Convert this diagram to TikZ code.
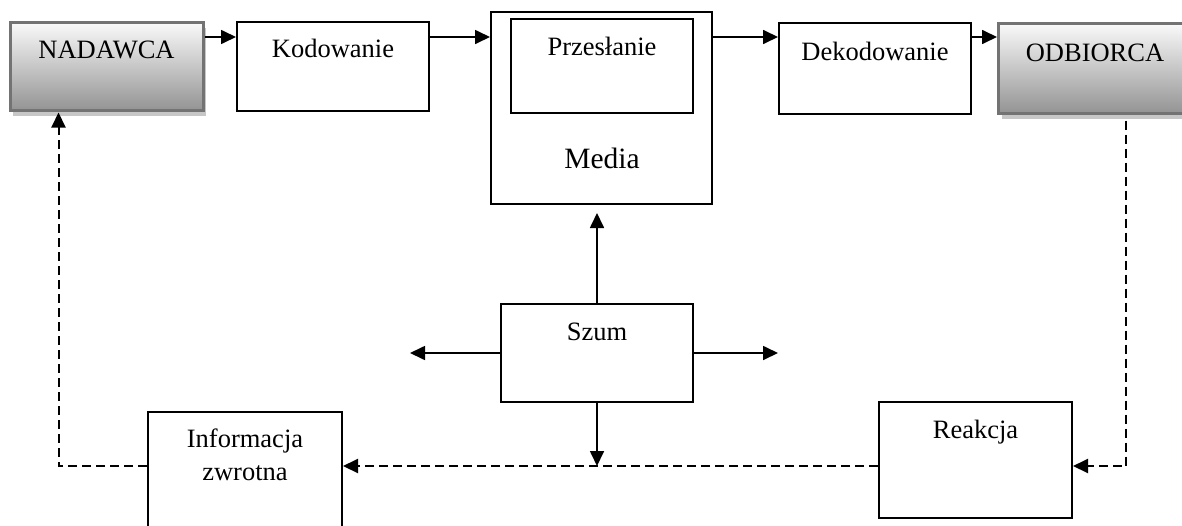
\documentclass[tikz,border=0pt]{standalone}
\usepackage{fontspec}
\setmainfont{Liberation Serif}
\usetikzlibrary{arrows.meta,shadows}
\begin{document}
\begin{tikzpicture}[x=1pt,y=-1pt,
  box/.style={draw, line width=2pt, fill=white, inner sep=0pt},
  party/.style={draw=black!55, line width=3pt, inner sep=0pt,
    top color=black!2, bottom color=black!42,
    general shadow={fill=black!22, shadow xshift=3pt, shadow yshift=-6pt}},
  lbl/.style={anchor=base, inner sep=0pt, align=center,
    font=\fontsize{26.5}{33}\selectfont},
  tip/.style={-{Triangle[length=15pt,width=14pt]}},
  arr/.style={line width=1.7pt, tip},
  fb/.style={line width=2pt, dash pattern=on 9pt off 5pt, tip}
]
\useasboundingbox (0,0) rectangle (1182,525);

% sender and receiver
\node[party, minimum width=193pt, minimum height=88pt] (nad) at (106.5,66) {};
\node[party, minimum width=193pt, minimum height=90pt] (odb) at (1095,68) {};

% processing boxes
\node[box, minimum width=192pt, minimum height=89pt] (kod) at (333,66.5) {};
\node[box, minimum width=221pt, minimum height=192pt] (media) at (601.5,108) {};
\node[box, minimum width=182pt, minimum height=94pt] (prz) at (602,66) {};
\node[box, minimum width=192pt, minimum height=91pt] (dek) at (875,68.5) {};
\node[box, minimum width=192pt, minimum height=98pt] (szum) at (597,353) {};
\node[box, minimum width=194pt, minimum height=126pt] (info) at (245,475) {};
\node[box, minimum width=193pt, minimum height=116pt] (reak) at (975.5,460) {};

% labels
\node[lbl] (tnad) at (106.5,58) {NADAWCA};
\node[lbl] (todb) at (1095,61) {ODBIORCA};
\node[lbl] (tkod) at (333,57) {Kodowanie};
\node[lbl] (tprz) at (602,55) {Przesłanie};
\node[lbl, font=\fontsize{29.5}{35}\selectfont] (tmed) at (602,168) {Media};
\node[lbl] (tdek) at (875,60) {Dekodowanie};
\node[lbl] (tszum) at (597,340) {Szum};
\node[lbl] (tinfo) at (245,480) {Informacja\\zwrotna};
\node[lbl] (treak) at (975.5,438) {Reakcja};

% helper rows
\coordinate (row) at (0,37);
\coordinate (fbrow) at (0,466);
\coordinate (noiseL) at (410,353);
\coordinate (noiseR) at (778,353);

% main message path
\draw[arr] (nad.east |- row) -- (kod.west |- row);
\draw[arr] (kod.east |- row) -- (media.west |- row);
\draw[arr] (media.east |- row) -- (dek.west |- row);
\draw[arr] (dek.east |- row) -- (odb.west |- row);

% noise
\draw[arr, shorten >=8pt] (szum.north) -- (szum.north |- media.south);
\draw[arr] (szum.west) -- (noiseL);
\draw[arr] (szum.east) -- (noiseR);
\draw[arr] (szum.south) -- (szum.south |- fbrow);

% feedback loop
\draw[fb] ([xshift=31pt,yshift=-6pt]odb.south) |- (reak.east |- fbrow);
\draw[fb] (reak.west |- fbrow) -- (info.east |- fbrow);
\draw[fb] (info.west |- fbrow) -| ([xshift=-48pt,yshift=-1pt]nad.south);
\end{tikzpicture}
\end{document}
